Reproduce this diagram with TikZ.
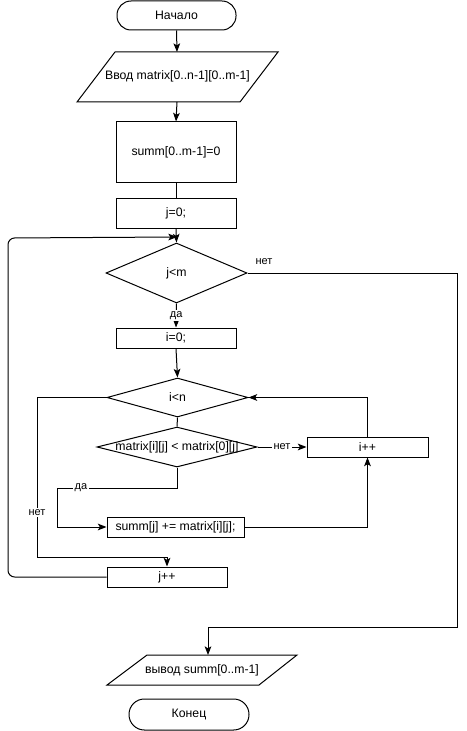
\documentclass[tikz,border=0pt]{standalone}
\usepackage{fontspec}
\setmainfont{Liberation Sans}
\usetikzlibrary{arrows.meta,shapes.geometric}
\begin{document}
\begin{tikzpicture}[x=0.75pt,y=-0.75pt,
  line width=0.75pt,
  font=\fontsize{9.2}{11}\selectfont,
  box/.style={draw, rectangle, inner sep=0pt},
  term/.style={draw, rectangle, rounded corners=10.5pt, inner sep=0pt},
  dec/.style={draw, diamond, inner sep=0pt},
  txt/.style={inner sep=0pt},
  lbl/.style={fill=white, inner sep=1pt, font=\fontsize{8.25}{10}\selectfont},
  arr/.style={-{Stealth[length=6.5pt,width=5pt,inset=1.5pt]}}
]
\useasboundingbox (0,0) rectangle (467,731);
\fill[white] (0,0) rectangle (467,731);

% nodes
\node[term, minimum width=89.25pt, minimum height=21.75pt] (start) at (176.5,15.5) {Начало};

\draw (115,52) -- (278,52) -- (240,102) -- (77,102) -- cycle;
\node[txt] (in) at (177.5,76) {Ввод matrix[0..n-1][0..m-1]};
\coordinate (inT) at (177,52);
\coordinate (inB) at (177,102);

\node[box, minimum width=90pt, minimum height=45pt] (s0) at (176,152) {summ[0..m-1]=0};
\node[box, minimum width=90pt, minimum height=22.5pt] (j0) at (176,213) {j=0;};
\node[dec, minimum width=105.75pt, minimum height=45pt, label={center:j<m}] (c1) at (176.5,273) {};
\node[box, minimum width=90pt, minimum height=15pt] (i0) at (176,338) {i=0;};
\node[dec, minimum width=105.75pt, minimum height=29.25pt, label={center:i<n}] (c2) at (177.5,397.5) {};
\node[dec, minimum width=120pt, minimum height=30pt, label={center:matrix[i][j] < matrix[0][j]}] (c3) at (177,447) {};
\node[box, minimum width=90.75pt, minimum height=15pt] (ipp) at (367.5,447) {i++};
\node[box, minimum width=102.75pt, minimum height=15pt] (sj) at (175.5,527) {summ[j] += matrix[i][j];};
\node[box, minimum width=90pt, minimum height=15pt] (jpp) at (167,577) {j++};

\draw (147,655) -- (297,655) -- (259,685) -- (107,685) -- cycle;
\node[txt] (out) at (202,670) {вывод summ[0..m-1]};
\coordinate (outT) at (208,655);

\node[term, minimum width=90pt, minimum height=23.25pt, rounded corners=11.5pt] (end) at (189,714.5) {Конец};

% connectors
\draw[arr] (start.south) -- (inT);
\draw[arr] (inB) -- (s0.north);
\draw (s0.south) -- (j0.north);
\draw[arr] (j0.south) -- (c1.north);
\coordinate (loopEnd) at (177,237);
\draw[arr, rounded corners=5pt] (jpp.west) -- (8,577) -- (8,238) -- (loopEnd);
\draw[arr] (c1.east) -- (457,273) -- (457,627) -- (208,627) -- (outT);
\node[lbl, fill=none] (l1) at (264,262) {нет};
\draw[arr] (c1.south) -- node[lbl] (l2) {да} (i0.north);
\draw[arr] (i0.south) -- (c2.north);
\draw (c2.south) -- (c3.north);
\draw[arr] (c2.west) -- (37,397.5) -- node[lbl, pos=0.72] (l3) {нет} (37,557) -- (167,557) -- (jpp.north);
\draw[arr] (c3.east) -- node[lbl] (l4) {нет} (ipp.west);
\draw[arr] (ipp.north) -- (367.5,397.5) -- (c2.east);
\draw[arr] (c3.south) -- (177,488) -- node[lbl, pos=0.8] (l5) {да} (57,488) -- (57,527) -- (sj.west);
\draw[arr] (sj.east) -- (367.5,527) -- (ipp.south);
\end{tikzpicture}
\end{document}
